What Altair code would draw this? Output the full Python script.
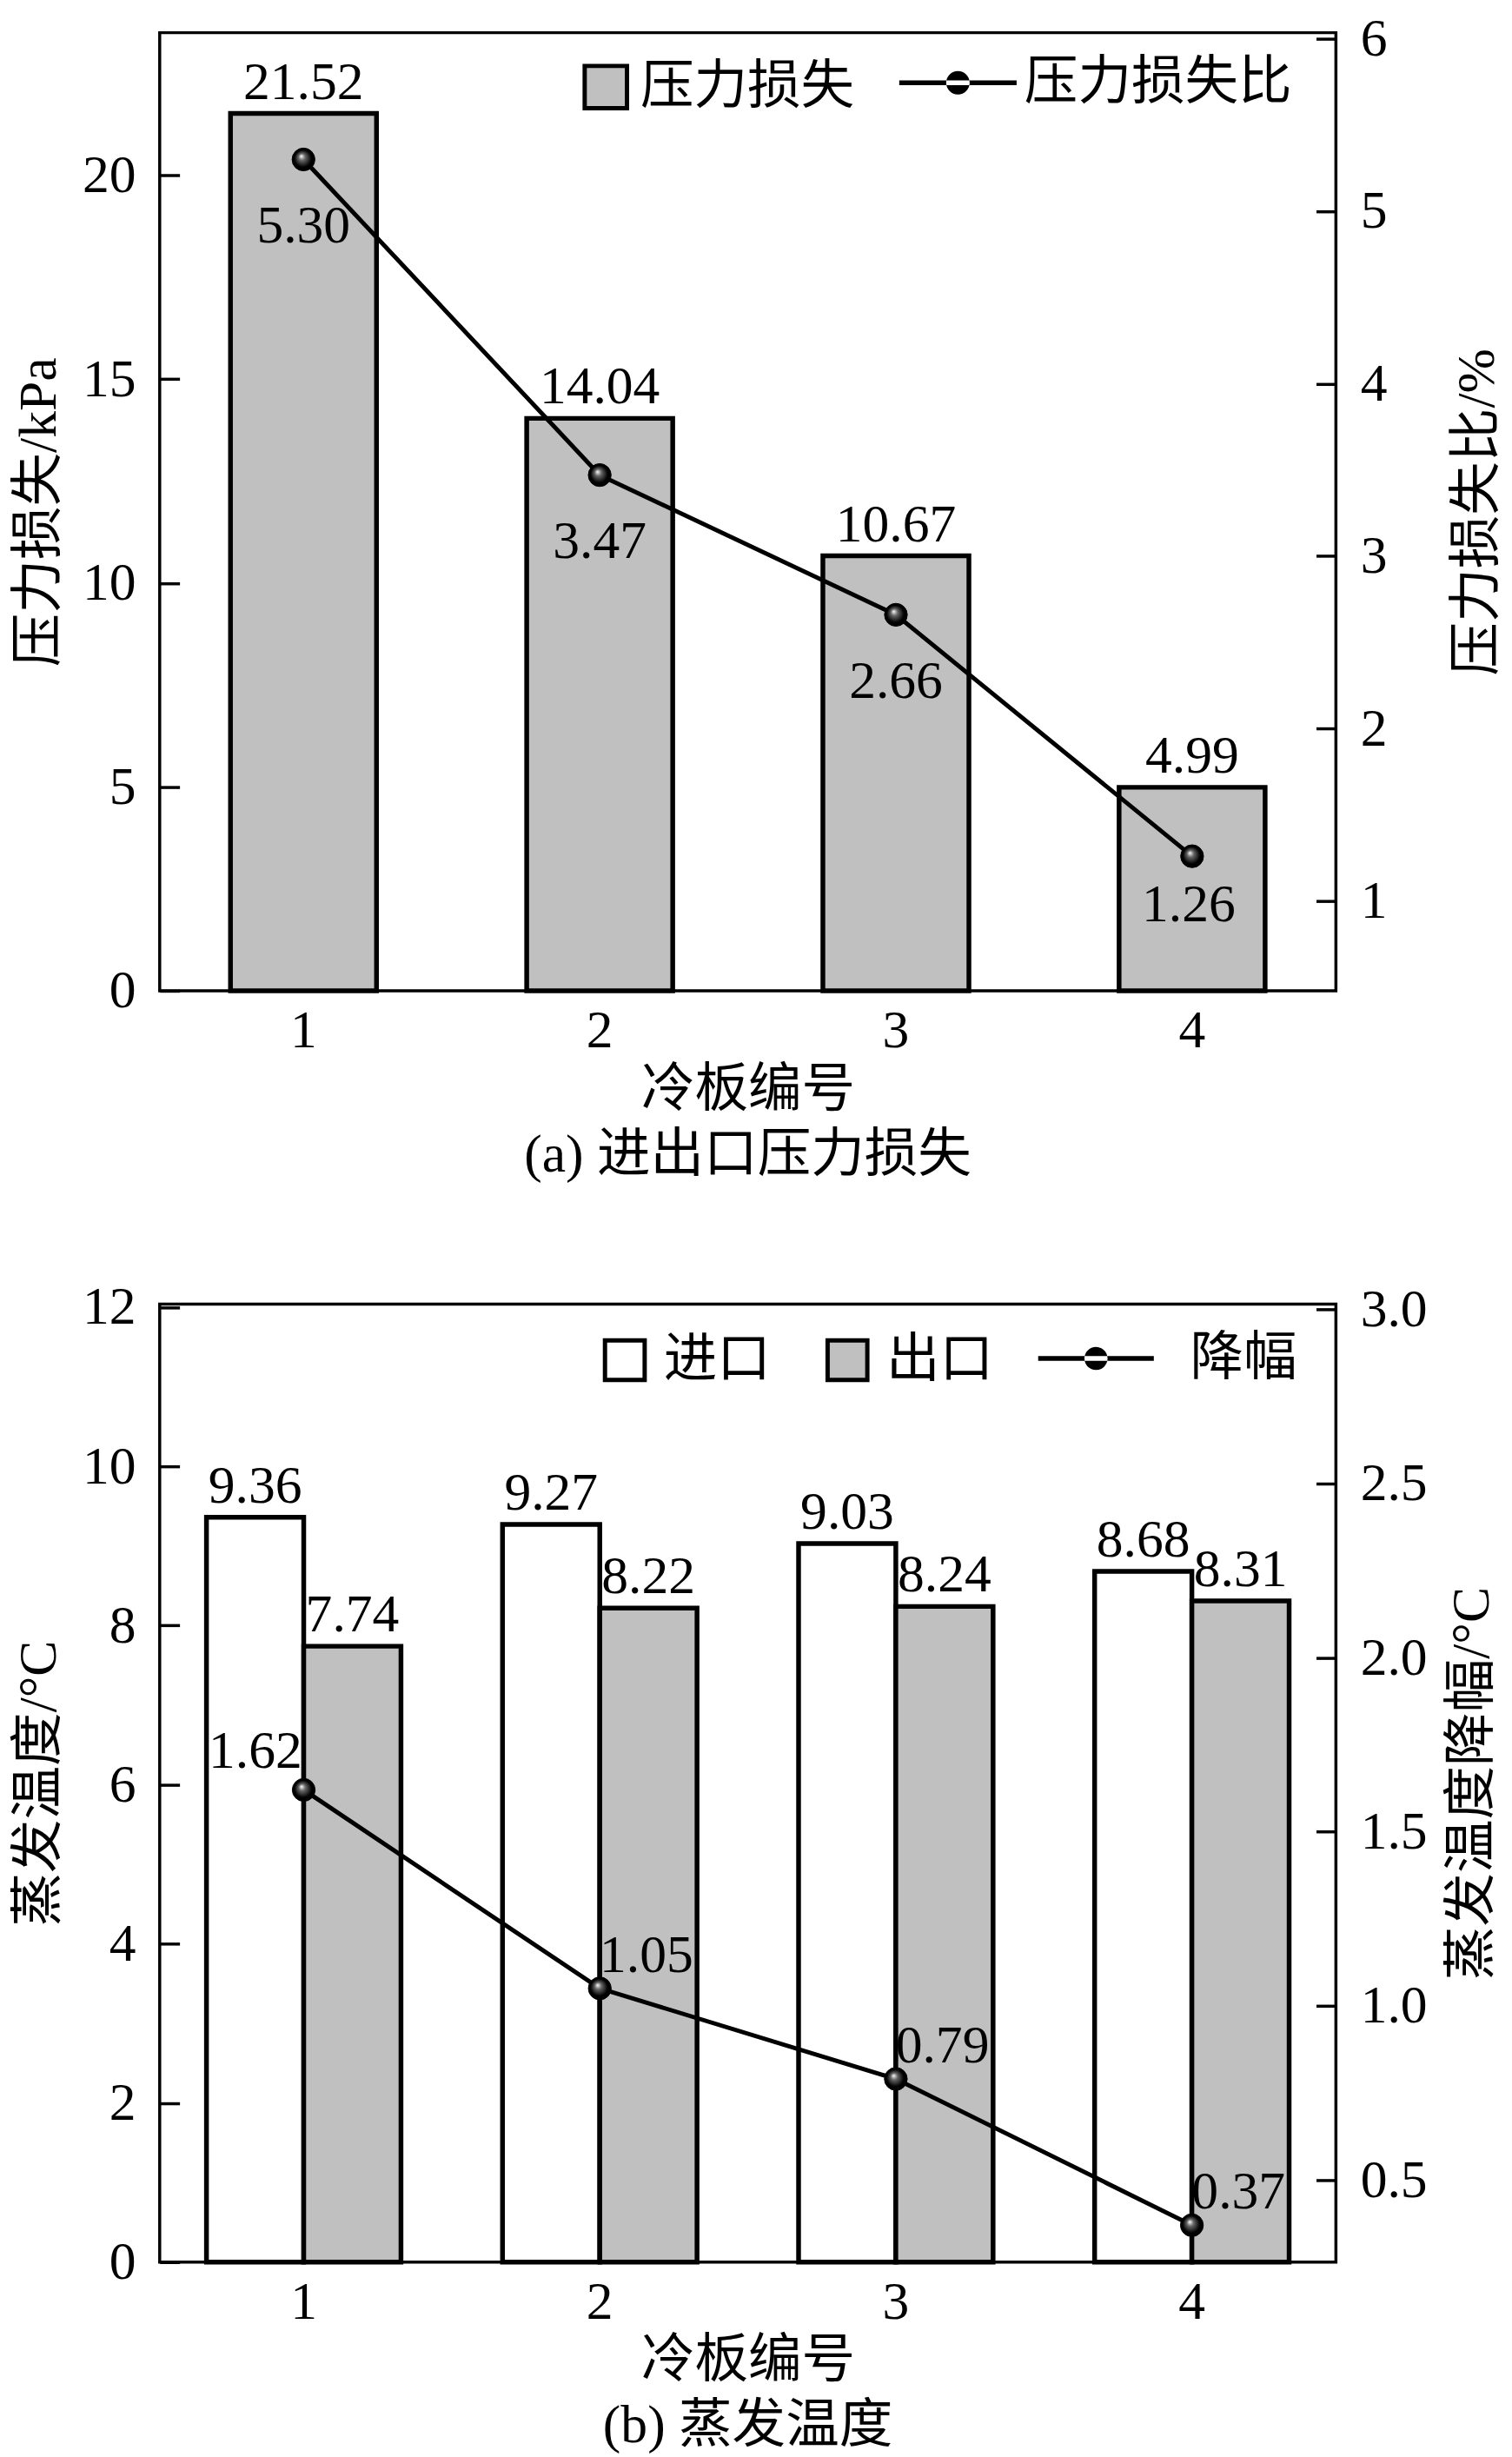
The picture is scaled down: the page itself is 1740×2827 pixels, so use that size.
import altair as alt
import pandas as pd

# ---------------- data ----------------
plates = ["1", "2", "3", "4"]
pressure_loss = [21.52, 14.04, 10.67, 4.99]      # kPa
loss_ratio = [5.30, 3.47, 2.66, 1.26]            # %
inlet_temp = [9.36, 9.27, 9.03, 8.68]            # °C
outlet_temp = [7.74, 8.22, 8.24, 8.31]           # °C
temp_drop = [1.62, 1.05, 0.79, 0.37]             # °C

loss_name = "压力损失"
ratio_name = "压力损失比"
inlet_name = "进口"
outlet_name = "出口"
drop_name = "降幅"

FONT = "Liberation Serif, Noto Sans CJK SC"
NUM = 62
TXT = 62
W, H = 1363, 1110

ball = alt.RadialGradient(
    gradient="radial",
    stops=[alt.GradientStop(color="#ffffff", offset=0),
           alt.GradientStop(color="#666666", offset=0.3),
           alt.GradientStop(color="#000000", offset=0.75)],
    x1=0.4, y1=0.35, r1=0, x2=0.5, y2=0.5, r2=0.5,
)
LINE_SYM = ("M-1,-0.04L1,-0.04L1,0.04L-1,0.04Z "
            "M-0.2,0A0.2,0.2,0,1,0,0.2,0A0.2,0.2,0,1,0,-0.2,0Z")


def left_axis(title, values, fmt):
    return alt.Axis(title=title, orient="left", values=values, format=fmt,
                    offset=-23, tickSize=23, domain=False, labelPadding=28,
                    titlePadding=18, grid=False)


def right_axis(title, values, fmt, tpad):
    return alt.Axis(title=title, orient="right", values=values, format=fmt,
                    offset=-23, tickSize=23, domain=False, labelPadding=28,
                    titlePadding=tpad, titleAngle=270, titleBaseline="top", grid=False)


def x_axis():
    return alt.Axis(title="冷板编号", labelAngle=0, ticks=False, domain=False,
                    labelPadding=16, titlePadding=7)


def num_text(dx, dy):
    return dict(baseline="middle", dx=dx, dy=dy, font=FONT, fontSize=NUM, color="black")


# ---------------- (a) ----------------
df_a = pd.DataFrame({"plate": plates, "loss": pressure_loss, "ratio": loss_ratio,
                     "s1": loss_name, "s2": ratio_name})

x_a = alt.X("plate:N", scale=alt.Scale(paddingInner=0.507, paddingOuter=0.239), axis=x_axis())
y_loss = alt.Y("loss:Q", scale=alt.Scale(domain=[0, 23.5], nice=False),
               axis=left_axis("压力损失/kPa", [0, 5, 10, 15, 20], "d"))
y_ratio = alt.Y("ratio:Q", scale=alt.Scale(domain=[0.48, 6.035], nice=False, zero=False),
                axis=right_axis("压力损失比/%", [1, 2, 3, 4, 5, 6], "d", 74))

base_a = alt.Chart(df_a)
bars_a = base_a.mark_bar(stroke="black", strokeWidth=5.5).encode(
    x=x_a, y=y_loss,
    fill=alt.Fill("s1:N", scale=alt.Scale(domain=[loss_name], range=["#c0c0c0"]),
                  legend=alt.Legend(title=None, orient="none", legendX=486, legendY=32,
                                    symbolType="square", symbolSize=2401,
                                    symbolStrokeColor="black", symbolStrokeWidth=5,
                                    labelOffset=9)),
)
barlab_a = base_a.mark_text(baseline="alphabetic", dy=-17, font=FONT, fontSize=NUM,
                            color="black").encode(
    x=x_a, y=y_loss, text=alt.Text("loss:Q", format=".2f"))
line_a = base_a.mark_line(strokeWidth=5).encode(
    x=x_a, y=y_ratio,
    stroke=alt.Stroke("s2:N", scale=alt.Scale(domain=[ratio_name], range=["black"]),
                      legend=alt.Legend(title=None, orient="none", legendX=857, legendY=-10,
                                        symbolType=LINE_SYM, symbolSize=18496,
                                        symbolFillColor="black", symbolStrokeColor="black",
                                        symbolStrokeWidth=0, labelOffset=9)),
)
pts_a = base_a.mark_circle(fill=ball, stroke="black", strokeWidth=1, size=700,
                           opacity=1).encode(x=x_a, y=y_ratio)
ratio_text = alt.Text("ratio:Q", format=".2f")
linelab_a1 = base_a.transform_filter(alt.datum.plate != "4").mark_text(
    **num_text(0, 77)).encode(x=x_a, y=y_ratio, text=ratio_text)
linelab_a2 = base_a.transform_filter(alt.datum.plate == "4").mark_text(
    **num_text(-4, 56)).encode(x=x_a, y=y_ratio, text=ratio_text)

chart_a = alt.layer(
    alt.layer(bars_a, barlab_a),
    alt.layer(line_a, pts_a, linelab_a1, linelab_a2),
).resolve_scale(y="independent").properties(
    width=W, height=H,
    title=alt.TitleParams("(a) 进出口压力损失", orient="bottom", offset=15,
                          font=FONT, fontSize=TXT, fontWeight="normal", color="black"),
)

# ---------------- (b) ----------------
rows = []
for p, vi, vo in zip(plates, inlet_temp, outlet_temp):
    rows.append({"plate": p, "type": inlet_name, "temp": vi})
    rows.append({"plate": p, "type": outlet_name, "temp": vo})
df_b = pd.DataFrame(rows)
df_d = pd.DataFrame({"plate": plates, "drop": temp_drop, "s": drop_name})

x_b = alt.X("plate:N", scale=alt.Scale(paddingInner=0.343, paddingOuter=0.158), axis=x_axis())
xo_b = alt.XOffset("type:N", scale=alt.Scale(domain=[inlet_name, outlet_name],
                                              paddingInner=0, paddingOuter=0))
y_temp = alt.Y("temp:Q", scale=alt.Scale(domain=[0, 12.04], nice=False),
               axis=left_axis("蒸发温度/°C", [0, 2, 4, 6, 8, 10, 12], "d"))
y_drop = alt.Y("drop:Q", scale=alt.Scale(domain=[0.264, 3.015], nice=False, zero=False),
               axis=right_axis("蒸发温度降幅/°C", [0.5, 1.0, 1.5, 2.0, 2.5, 3.0], ".1f", 22))

bars_b = alt.Chart(df_b).mark_bar(stroke="black", strokeWidth=5.5).encode(
    x=x_b, xOffset=xo_b, y=y_temp,
    fill=alt.Fill("type:N", scale=alt.Scale(domain=[inlet_name, outlet_name],
                                            range=["white", "#c0c0c0"]),
                  legend=alt.Legend(title=None, orient="none", legendX=508, legendY=34,
                                    direction="horizontal", columns=2, columnPadding=55,
                                    symbolType="square", symbolSize=2116,
                                    symbolStrokeColor="black", symbolStrokeWidth=5,
                                    labelOffset=14)),
)
barlab_b = alt.Chart(df_b).mark_text(baseline="alphabetic", dy=-17, font=FONT,
                                     fontSize=NUM, color="black").encode(
    x=x_b, xOffset=xo_b, y=y_temp, text=alt.Text("temp:Q", format=".2f"))

base_d = alt.Chart(df_d)
line_b = base_d.mark_line(strokeWidth=5).encode(
    x=x_b, y=y_drop,
    stroke=alt.Stroke("s:N", scale=alt.Scale(domain=[drop_name], range=["black"]),
                      legend=alt.Legend(title=None, orient="none", legendX=1018, legendY=-4,
                                        symbolType=LINE_SYM, symbolSize=17956,
                                        symbolFillColor="black", symbolStrokeColor="black",
                                        symbolStrokeWidth=0, labelOffset=42)),
)
pts_b = base_d.mark_circle(fill=ball, stroke="black", strokeWidth=1, size=700,
                           opacity=1).encode(x=x_b, y=y_drop)
drop_text = alt.Text("drop:Q", format=".2f")
lab_first = base_d.transform_filter(alt.datum.plate == "1").mark_text(
    **num_text(-56, -45)).encode(x=x_b, y=y_drop, text=drop_text)
lab_rest = base_d.transform_filter(alt.datum.plate != "1").mark_text(
    **num_text(54, -38)).encode(x=x_b, y=y_drop, text=drop_text)

chart_b = alt.layer(
    alt.layer(bars_b, barlab_b),
    alt.layer(line_b, pts_b, lab_first, lab_rest),
).resolve_scale(y="independent").properties(
    width=W, height=H,
    title=alt.TitleParams("(b) 蒸发温度", orient="bottom", offset=15,
                          font=FONT, fontSize=TXT, fontWeight="normal", color="black"),
)

chart = alt.vconcat(chart_a, chart_b, spacing=110).resolve_scale(
    fill="independent", stroke="independent"
).resolve_legend(
    fill="independent", stroke="independent"
).properties(
    padding={"left": 4, "top": -6, "right": 0, "bottom": 0}
).configure_view(
    stroke="black", strokeWidth=3.5
).configure_axis(
    labelFont=FONT, labelFontSize=NUM, labelColor="black",
    titleFont=FONT, titleFontSize=TXT, titleFontWeight="normal", titleColor="black",
    tickColor="black", tickWidth=3.5, grid=False,
).configure_legend(
    labelFont=FONT, labelFontSize=TXT, labelColor="black", labelLimit=1000, padding=0,
)

chart.save("out.html", embed_options={"renderer": "svg", "actions": False})
